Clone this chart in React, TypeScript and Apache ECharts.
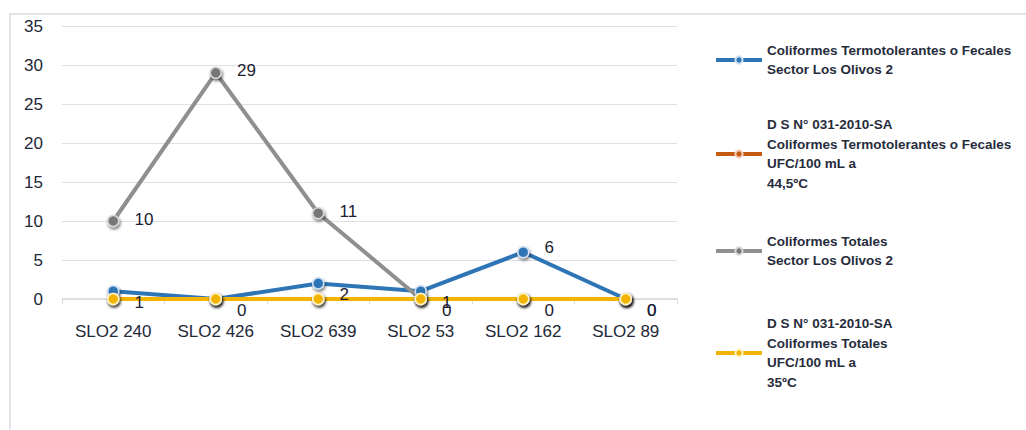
import React, { useEffect, useRef } from "react";
import * as echarts from "echarts";

const categories = ["SLO2 240", "SLO2 426", "SLO2 639", "SLO2 53", "SLO2 162", "SLO2 89"];
const termoValues = [1, 0, 2, 1, 6, 0];
const termoStandard = [0, 0, 0, 0, 0, 0];
const totalesValues = [10, 29, 11, 0, 0, 0];
const totalesStandard = [0, 0, 0, 0, 0, 0];
const yMin = 0;
const yMax = 35;
const yInterval = 5;

const seriesNames = [
  "Coliformes Termotolerantes o Fecales\nSector Los Olivos 2",
  "D S N° 031-2010-SA\nColiformes Termotolerantes o Fecales\nUFC/100 mL a\n44,5ºC",
  "Coliformes Totales\nSector Los Olivos 2",
  "D S N° 031-2010-SA\nColiformes Totales\nUFC/100 mL a\n35ºC",
];
const seriesColors = ["#2e75b6", "#c55a11", "#8f8f8f", "#f2b400"];
const markerFill = ["#2e75b6", "#c55a11", "#777777", "#f2b400"];
const markerBorder = ["#cfe0f2", "#f3d2bd", "#d6d6d6", "#fff3c4"];
const legendIconY = [55, 149, 246, 348];

const LH = 19.5;
const FONT = "'Liberation Sans', Arial, sans-serif";

export default function App() {
  const ref = useRef<HTMLDivElement>(null);

  useEffect(() => {
    document.body.style.margin = "0";
    if (!ref.current) return;
    const chart = echarts.init(ref.current, null, { renderer: "svg" });

    const labelFor = (v: number) => ({
      value: v,
      label: { offset: [0, v <= 2 ? 11 : v < 8 ? -5 : -2] },
    });

    const dataSets = [termoValues, termoStandard, totalesValues, totalesStandard];
    const showLabels = [true, false, true, false];

    const series = seriesNames.map((name, i) => ({
      name,
      type: "line",
      data: showLabels[i] ? dataSets[i].map(labelFor) : dataSets[i],
      symbol: "circle",
      symbolSize: 11,
      lineStyle: { color: seriesColors[i], width: 4 },
      itemStyle: {
        color: markerFill[i],
        borderColor: markerBorder[i],
        borderWidth: 1.5,
        shadowColor: "rgba(0,0,0,0.55)",
        shadowBlur: 3,
        shadowOffsetX: 1,
        shadowOffsetY: 2,
      },
      label: {
        show: showLabels[i],
        position: "right",
        distance: 15,
        fontFamily: FONT,
        fontSize: 17,
        color: "#1c2233",
      },
      emphasis: { disabled: true },
    }));

    const legends = seriesNames.map((name, i) => {
      const n = name.split("\n").length;
      return {
        data: [name],
        orient: "vertical",
        left: 709,
        top: legendIconY[i] - ((2 * n - 1) * LH) / 2,
        itemWidth: 46,
        itemHeight: 9,
        itemGap: 0,
        selectedMode: false,
        lineStyle: { width: 4 },
        textStyle: {
          fontFamily: FONT,
          fontSize: 13.5,
          fontWeight: "bold",
          color: "#262c3c",
          lineHeight: LH,
          padding: [(n - 1) * LH, 0, 0, 0],
        },
      };
    });

    chart.setOption({
      animation: false,
      backgroundColor: "#ffffff",
      grid: { left: 62, right: 349, top: 26, bottom: 131, containLabel: false },
      legend: legends,
      graphic: [
        {
          type: "rect",
          shape: { x: 10, y: 14, width: 1100, height: 600 },
          style: { fill: "none", stroke: "#d9dce3", lineWidth: 1.5 },
          silent: true,
        },
      ],
      xAxis: {
        type: "category",
        data: categories,
        boundaryGap: true,
        axisLine: { lineStyle: { color: "#d6d9e0", width: 1.5 } },
        axisTick: { show: true, length: 5, lineStyle: { color: "#d6d9e0" } },
        axisLabel: { margin: 24, fontFamily: FONT, fontSize: 17, color: "#222838" },
      },
      yAxis: {
        type: "value",
        min: yMin,
        max: yMax,
        interval: yInterval,
        axisLine: { show: false },
        axisTick: { show: false },
        axisLabel: { margin: 19, fontFamily: FONT, fontSize: 17, color: "#222838" },
        splitLine: { lineStyle: { color: "#dde0e8", width: 1.2 } },
      },
      series,
    });

    return () => chart.dispose();
  }, []);

  return <div ref={ref} style={{ width: 1026, height: 430 }} />;
}
